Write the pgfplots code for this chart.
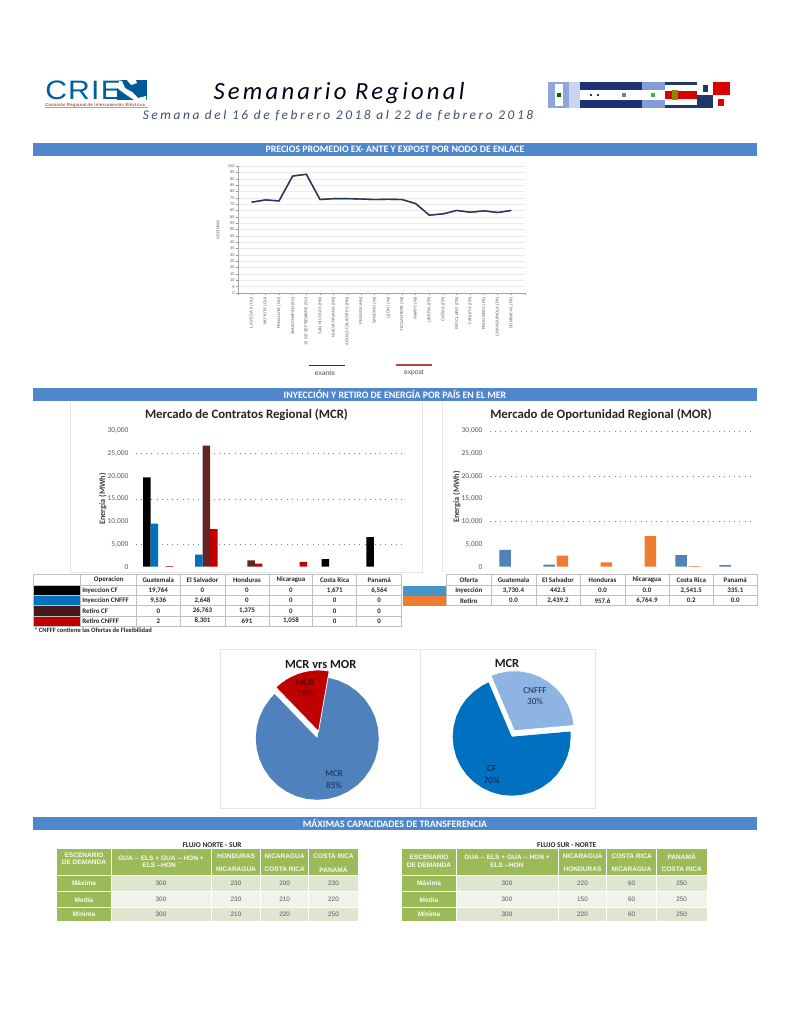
\documentclass[border=0pt]{standalone}
\usepackage{pgfplots}
\pgfplotsset{compat=1.18}
\usepgfplotslibrary{polar}
\usepackage{fontspec}
\setmainfont{Carlito}
\newfontfamily\arialf{Liberation Sans}
\definecolor{banner}{HTML}{4F86CC}
\definecolor{tickgray}{HTML}{595959}
\definecolor{gridc}{HTML}{6F83A0}
\definecolor{panel}{HTML}{E6E6E6}
\definecolor{tline}{HTML}{BFBFBF}
\definecolor{navyl}{HTML}{1F3864}
\definecolor{redl}{HTML}{C0504D}
\definecolor{retrocf}{HTML}{632523}
\definecolor{retrocn}{HTML}{C00000}
\definecolor{cfblue}{HTML}{0070C0}
\definecolor{morblue}{HTML}{4F81BD}
\definecolor{mororange}{HTML}{ED7D31}
\definecolor{grn}{HTML}{9BBB59}
\definecolor{band}{HTML}{DEE6D0}
\definecolor{bandl}{HTML}{EFF3EA}
\definecolor{subt}{HTML}{3D4F6B}
\definecolor{cnfffc}{HTML}{8EB4E3}
\newcommand{\fs}[1]{\fontsize{#1}{#1}\selectfont}
\pgfplotsset{
  barax/.style={scale only axis, width=#1, height=101.8pt, ymin=0, ymax=30000,
    xmin=-0.5, xmax=5.5, xtick=\empty, ytick={0,5000,10000,15000,20000,25000,30000},
    axis line style={draw=none}, tick style={draw=none}, ybar,
    restrict y to domain=0.1:40000,
    /pgf/number format/.cd, 1000 sep={,}, assume math mode=true, /pgfplots/.cd,
    scaled y ticks=false,
    yticklabel style={font=\fs{5.6}, text=tickgray, inner sep=1pt},
    ytick align=outside,
    extra tick style={grid=major, major grid style={dash pattern=on 0.7pt off 3.2pt, gridc, line width=0.5pt}},
    extra y tick labels={}},
  pie/.style={hide axis, scale only axis, width=#1, height=#1, anchor=center,
    xmin=-1, xmax=1, ymin=-1, ymax=1, clip=false, data cs=polar}
}
\begin{document}
\begin{tikzpicture}[x=0.75pt,y=-0.75pt]
\path[use as bounding box,fill=white] (0,0) rectangle (791,1024);
% ---------- header
\fill[cfblue!80!black] (117,80) -- (147,80) -- (147,100) -- (117,100) -- cycle;
\fill[white] (117,80) -- (122,81) -- (125,88) -- (132,92) -- (138,98) -- (146,96) -- (146,100) -- (134,100) -- (125,94) -- (117,88) -- cycle;
\fill[white] (126,79) -- (135,78) -- (137,83) -- (131,85) -- cycle;
\node[text=cfblue!85!black, font=\arialf\fs{20}\addfontfeatures{LetterSpace=4}, inner sep=0, anchor=west, xscale=1.13] at (45,90) {CRIE};
\node[text=red!60!black, font=\arialf\fs{3.2}\addfontfeatures{LetterSpace=8}, inner sep=0, anchor=west] at (45,105) {Comisi\'on Regional de Interconexi\'on El\'ectrica};
\draw[red!50, line width=0.3pt] (45,107.5) -- (148,107.5);
\node[font=\itshape\fs{18.5}\addfontfeatures{LetterSpace=13}, text=black!90!blue, inner sep=0] at (339,93) {Semanario Regional};
\node[font=\itshape\fs{10}\addfontfeatures{LetterSpace=19.5}, text=subt, inner sep=0] at (338,116) {Semana del 16 de febrero 2018 al 22 de febrero 2018};
% flags
\fill[cyan!40!blue!20] (548,82) rectangle (580,108);
\fill[cyan!40!blue!45] (548,82) rectangle (569,108);
\fill[white] (555,84) rectangle (563,106);
\fill[green!40!black] (557,93) rectangle (561,97);
\fill[navyl!90!blue] (580,82) rectangle (642,90);
\fill[navyl!90!blue] (580,100) rectangle (642,108);
\fill[white] (580,90) rectangle (642,100);
\fill[navyl] (590,94) rectangle (592,96); \fill[navyl] (597,94) rectangle (599,96);
\fill[gray] (622,93) rectangle (626,97);
\fill[cyan!40!blue!50] (642,82) rectangle (665,90);
\fill[cyan!40!blue!50] (642,100) rectangle (665,108);
\fill[green!40!gray] (651,93) rectangle (655,97);
\fill[navyl] (665,82) rectangle (697,85); \fill[navyl] (665,105) rectangle (697,108);
\fill[red!85!black] (665,91) rectangle (697,99);
\fill[olive] (672,90) rectangle (678,100);
\fill[navyl] (697,95) rectangle (713,108);
\fill[red!85!black] (713,82) rectangle (730,95);
\fill[navyl] (703,85) rectangle (708,92);
\fill[red!85!black] (718,99) rectangle (724,106);
% ---------- banners
\foreach \yy/\tt in {142.7/{PRECIOS PROMEDIO EX- ANTE Y EXPOST POR NODO DE ENLACE},388/{INYECCI\'ON Y RETIRO DE ENERG\'IA POR PA\'IS EN EL MER},817/{M\'AXIMAS CAPACIDADES DE TRANSFERENCIA}}{
  \fill[banner] (33,\yy) rectangle (757,\yy+13);
  \node[text=white, font=\bfseries\fs{7.4}, inner sep=0] at (395,\yy+6.5) {\tt};
}
% ---------- line chart
\begin{axis}[at={(178.5pt,-219.75pt)}, anchor=south west, scale only axis, width=215.25pt, height=95.25pt,
  xmin=-1, xmax=20, ymin=0, ymax=100,
  xtick={-1,0,...,20}, 
  xticklabels={,LA VEGA II (GU),MOYUTA (GU),PANALUYA (GU),AHUACHAP\'AN (SV),15 DE SEPTIEMBRE (SV),SAN NICOL\'AS (HN),NUEVA PAVANA (HN),AGUAS CALIENTES (HN),PRADOS (HN),SANDINO (NI),LE\'ON I (NI),TICUANTEPE (NI),AMAYO (NI),LIBERIA (CR),CA\~NAS (CR),R\'IO CLARO (CR),CAHUITA (CR),PROGRESO (PA),CHANGUINOLA (PA),DOMINICAL (PA),},
  x tick label style={rotate=90, anchor=east, font=\arialf\fs{3.05}, text=tickgray, inner sep=1.6pt},
  ytick={0,5,...,100}, ymajorgrids, major grid style={line width=0.3pt, black!8},
  y tick label style={font=\arialf\fs{3}, text=tickgray, inner sep=0.8pt},
  /pgf/number format/assume math mode=true,
  axis x line=bottom, axis y line=left, axis line style={black!35, line width=0.4pt, -},
  tick style={black!40, line width=0.3pt}, tick align=outside, major tick length=1.5pt]
\addplot[redl, line width=1pt] coordinates {(0,71.5)(1,73.3)(2,72.5)(3,92.1)(4,93.5)(5,73.6)(6,74.3)(7,74.3)(8,74)(9,73.6)(10,73.8)(11,73.6)(12,70.4)(13,61.3)(14,62.3)(15,65)(16,63.6)(17,64.7)(18,63.4)(19,65)};
\addplot[navyl, line width=1.05pt] coordinates {(0,71.5)(1,73.3)(2,72.5)(3,92.1)(4,93.5)(5,73.6)(6,74.3)(7,74.3)(8,74)(9,73.6)(10,73.8)(11,73.6)(12,70.4)(13,61.3)(14,62.3)(15,65)(16,63.6)(17,64.7)(18,63.4)(19,65)};
\end{axis}
\node[rotate=90, font=\arialf\fs{3}, text=tickgray, inner sep=0] at (218,230) {USD/MWh};
\draw[navyl, line width=0.9pt] (309,365.5) -- (345,365.5);
\draw[redl!90!black, line width=0.9pt] (396,365) -- (432,365);
\node[font=\arialf\fs{5}, text=black!70, inner sep=0] at (325,373) {exante};
\node[font=\arialf\fs{5}, text=black!70, inner sep=0] at (414,373) {expost};
% ---------- panels
\draw[panel, line width=0.5pt] (70.7,402) -- (70.7,572) -- (422.7,572) -- (422.7,402);
\draw[panel, line width=0.5pt] (442.7,402) -- (442.7,572);
\node[font=\bfseries\fs{9.6}, text=black!85, inner sep=0] at (246.5,415) {Mercado de Contratos Regional (MCR)};
\node[font=\bfseries\fs{9.6}, text=black!85, inner sep=0] at (601,415) {Mercado de Oportunidad Regional (MOR)};
\node[rotate=90, font=\bfseries\fs{6.2}, text=black!75, inner sep=0] at (102.7,499) {Energ\'ia (MWh)};
\node[rotate=90, font=\bfseries\fs{6.2}, text=black!75, inner sep=0] at (456.7,497) {Energ\'ia (MWh)};
% ---------- MCR bars
\begin{axis}[at={(101.775pt,-425.025pt)}, anchor=south west, barax=201pt, extra y ticks={5000,15000,25000}]
\addplot[ybar, bar width=5.625pt, bar shift=-8.44pt, fill=black, draw=none] coordinates {(0,19764)(1,0)(2,0)(3,0)(4,1671)(5,6564)};
\addplot[ybar, bar width=5.625pt, bar shift=-2.81pt, fill=cfblue, draw=none] coordinates {(0,9536)(1,2648)(2,0)(3,0)(4,0)(5,0)};
\addplot[ybar, bar width=5.625pt, bar shift=2.81pt, fill=retrocf, draw=none] coordinates {(0,0)(1,26763)(2,1375)(3,0)(4,0)(5,0)};
\addplot[ybar, bar width=5.625pt, bar shift=8.44pt, fill=retrocn, draw=none] coordinates {(0,150)(1,8301)(2,691)(3,1058)(4,0)(5,0)};
\end{axis}
% ---------- MOR bars
\begin{axis}[at={(367.275pt,-425.025pt)}, anchor=south west, barax=198pt, extra y ticks={10000,20000,30000}]
\addplot[ybar, bar width=8.6pt, bar shift=-4.95pt, fill=morblue, draw=none] coordinates {(0,3730.4)(1,442.5)(2,0)(3,0)(4,2541.5)(5,335.1)};
\addplot[ybar, bar width=8.6pt, bar shift=4.95pt, fill=mororange, draw=none] coordinates {(0,0)(1,2439.2)(2,957.6)(3,6764.9)(4,150)(5,0)};
\end{axis}
% ---------- MCR table
\fill[black] (33.3,585.7) rectangle (80.7,595.7);
\fill[cfblue] (33.3,595.7) rectangle (80.7,605.7);
\fill[retrocf!70!black!100] (33.3,605.7) rectangle (80.7,616);
\fill[retrocn] (33.3,616) rectangle (80.7,626);
\foreach \yy in {574.3,585.7,595.7,605.7,616,626} \draw[tline, line width=0.4pt] (33.3,\yy) -- (401.7,\yy);
\foreach \xx in {33.3,80.7,136.7,180,225,269.3,312.7,356.7,401.7} \draw[tline, line width=0.4pt] (\xx,574.3) -- (\xx,626);
\foreach \xx/\tt in {108.7/Operacion,158.3/Guatemala,202.5/El Salvador,247/Honduras,291/Nicaragua,334.7/Costa Rica,379.2/Panam\'a} \node[font=\bfseries\fs{5.2}, inner sep=0, text=black!85] at (\xx,580) {\tt};
\foreach \yy/\tt in {590.7/Inyeccion CF,600.7/Inyeccion CNFFF,610.8/Retiro CF,621/Retiro CNFFF} \node[font=\bfseries\fs{5.2}, inner sep=0, anchor=west, text=black!85] at (82,\yy) {\tt};
\foreach \xx/\tt in {158.3/{19,764},202.5/0,247/0,291/0,334.7/{1,671},379.2/{6,564}} \node[font=\bfseries\fs{5.2}, inner sep=0, text=black!85] at (\xx,590.7) {\tt};
\foreach \xx/\tt in {158.3/{9,536},202.5/{2,648},247/0,291/0,334.7/0,379.2/0} \node[font=\bfseries\fs{5.2}, inner sep=0, text=black!85] at (\xx,600.7) {\tt};
\foreach \xx/\tt in {158.3/0,202.5/{26,763},247/{1,375},291/0,334.7/0,379.2/0} \node[font=\bfseries\fs{5.2}, inner sep=0, text=black!85] at (\xx,610.8) {\tt};
\foreach \xx/\tt in {158.3/2,202.5/{8,301},247/691,291/{1,058},334.7/0,379.2/0} \node[font=\bfseries\fs{5.2}, inner sep=0, text=black!85] at (\xx,621) {\tt};
\node[font=\bfseries\fs{4.9}, inner sep=0, anchor=west, text=black!85] at (34,630.5) {* CNFFF contiene las Ofertas de Flexibilidad};
% ---------- MOR table
\fill[morblue!85!cyan] (402.7,585.7) rectangle (446.7,595.7);
\fill[mororange] (402.7,595.7) rectangle (446.7,605.7);
\foreach \yy in {574.3,585.7,595.7,605.7} \draw[tline, line width=0.4pt] (446.7,\yy) -- (757.3,\yy);
\foreach \xx in {446.7,491,536,580,625,669.3,713.3,757.3} \draw[tline, line width=0.4pt] (\xx,574.3) -- (\xx,605.7);
\foreach \xx/\tt in {468.8/Oferta,513.5/Guatemala,558/El Salvador,602.5/Honduras,647/Nicaragua,691.3/Costa Rica,735.3/Panam\'a} \node[font=\bfseries\fs{5.2}, inner sep=0, text=black!85] at (\xx,580) {\tt};
\foreach \xx/\tt in {468.8/Inyecci\'on,513.5/{3,730.4},558/442.5,602.5/0.0,647/0.0,691.3/{2,541.5},735.3/335.1} \node[font=\bfseries\fs{5.2}, inner sep=0, text=black!85] at (\xx,590.7) {\tt};
\foreach \xx/\tt in {468.8/Retiro,513.5/0.0,558/{2,439.2},602.5/957.6,647/{6,764.9},691.3/0.2,735.3/0.0} \node[font=\bfseries\fs{5.2}, inner sep=0, text=black!85] at (\xx,600.7) {\tt};
% ---------- pies
\draw[panel, line width=0.6pt] (220,649) rectangle (595,808);
\draw[panel, line width=0.6pt] (420,649) -- (420,808);
\begin{axis}[pie=92.25pt, at={(237.975pt,-553.725pt)}]
\addplot[fill=morblue, draw=none] coordinates {(0,0)(134,1)(140,1)(150,1)(160,1)(170,1)(180,1)(190,1)(200,1)(210,1)(220,1)(230,1)(240,1)(250,1)(260,1)(270,1)(280,1)(290,1)(300,1)(310,1)(320,1)(330,1)(340,1)(350,1)(360,1)(370,1)(380,1)(390,1)(400,1)(410,1)(420,1)(430,1)(440,1)(0,0)};
\end{axis}
\begin{axis}[pie=92.25pt, at={(238.875pt,-548.625pt)}]
\addplot[fill=retrocn, draw=white, line width=0.6pt] coordinates {(0,0)(80,1)(86,1)(92,1)(98,1)(104,1)(110,1)(116,1)(122,1)(128,1)(134,1)(0,0)};
\end{axis}
\begin{axis}[pie=88.5pt, at={(383.775pt,-552.525pt)}]
\addplot[fill=cfblue, draw=none] coordinates {(0,0)(113,1)(120,1)(130,1)(140,1)(150,1)(160,1)(170,1)(180,1)(190,1)(200,1)(210,1)(220,1)(230,1)(240,1)(250,1)(260,1)(270,1)(280,1)(290,1)(300,1)(310,1)(320,1)(330,1)(340,1)(350,1)(360,1)(365,1)(0,0)};
\end{axis}
\begin{axis}[pie=90pt, at={(385.725pt,-548.025pt)}]
\addplot[fill=cnfffc, draw=white, line width=0.6pt] coordinates {(0,0)(5,1)(15,1)(25,1)(35,1)(45,1)(55,1)(65,1)(75,1)(85,1)(95,1)(105,1)(113,1)(0,0)};
\end{axis}
\node[font=\bfseries\fs{9.3}, text=black!90, inner sep=0] at (320.7,664) {MCR vrs MOR};
\node[font=\bfseries\fs{9.3}, text=black!90, inner sep=0] at (507,663) {MCR};
\foreach \xx/\yy/\tt in {334/774/MCR,334/785.6/85\%,535/691/CNFFF,535/701.7/30\%} \node[font=\fs{6.8}, text=navyl!80!black, inner sep=0] at (\xx,\yy) {\tt};
\foreach \xx/\yy/\tt in {491.7/769/CF,491.7/780/70\%} \node[font=\fs{6.8}, text=navyl!50!black, inner sep=0] at (\xx,\yy) {\tt};
\foreach \xx/\yy/\tt in {305/682.7/MOR,305/693/15\%} \node[font=\fs{6.8}, text=black!75!red, inner sep=0] at (\xx,\yy) {\tt};
% ---------- bottom tables
\node[font=\bfseries\fs{5.5}, inner sep=0, text=black!85] at (212,844.7) {FLUJO NORTE - SUR};
\node[font=\bfseries\fs{5.5}, inner sep=0, text=black!85] at (566.7,844.7) {FLUJO SUR - NORTE};
% NS
\fill[grn] (57.3,849.3) rectangle (358.3,875);
\fill[grn] (57.3,875) rectangle (111,921);
\fill[band] (111,875) rectangle (358.3,891.7);
\fill[bandl] (111,891.7) rectangle (358.3,907.7);
\fill[band] (111,907.7) rectangle (358.3,921);
\foreach \yy in {875,891.7,907.7} \draw[white, line width=0.6pt] (57.3,\yy) -- (358.3,\yy);
\foreach \xx in {111,211,260.7,308.7} \draw[white, line width=0.6pt] (\xx,849.3) -- (\xx,921);
\foreach \xx/\yy/\tt in {84/855/ESCENARIO,84/862.5/DE DEMANDA,161/858/{GUA -- ELS + GUA -- HON +},161/865/{ELS --HON \"{}},236/856.7/HONDURAS,236/869.3/NICARAGUA,284.7/856.7/NICARAGUA,284.7/869.3/COSTA RICA,333.5/856.7/COSTA RICA,333.5/869.3/PANAM\'A,84/883.3/M\'axima,84/899.7/Media,84/914.3/M\'inima} \node[font=\arialf\bfseries\fs{4.9}, text=white!92!grn, inner sep=0] at (\xx,\yy) {\tt};
\foreach \yy/\a/\b/\c/\d in {883.3/300/230/200/230,899.7/300/230/210/220,914.3/300/210/220/250} {
 \node[font=\arialf\fs{4.8}, text=tickgray, inner sep=0] at (161,\yy) {\a};
 \node[font=\arialf\fs{4.8}, text=tickgray, inner sep=0] at (236,\yy) {\b};
 \node[font=\arialf\fs{4.8}, text=tickgray, inner sep=0] at (284.7,\yy) {\c};
 \node[font=\arialf\fs{4.8}, text=tickgray, inner sep=0] at (333.5,\yy) {\d};
}
% SN
\fill[grn] (402.3,849.3) rectangle (706.7,875);
\fill[grn] (402.3,875) rectangle (456,921);
\fill[band] (456,875) rectangle (706.7,891.7);
\fill[bandl] (456,891.7) rectangle (706.7,907.7);
\fill[band] (456,907.7) rectangle (706.7,921);
\foreach \yy in {875,891.7,907.7} \draw[white, line width=0.6pt] (402.3,\yy) -- (706.7,\yy);
\foreach \xx in {456,558.3,606.7,656.7} \draw[white, line width=0.6pt] (\xx,849.3) -- (\xx,921);
\foreach \xx/\yy/\tt in {429/857/ESCENARIO,429/865/DE DEMANDA,507/857/{GUA -- ELS + GUA -- HON +},507/865/{ELS --HON},582.5/856.7/NICARAGUA,582.5/869.3/HONDURAS,631.7/856.7/COSTA RICA,631.7/869.3/NICARAGUA,681.7/856.7/PANAM\'A,681.7/869.3/COSTA RICA,429/883.3/M\'axima,429/899.7/Media,429/914.3/M\'inima} \node[font=\arialf\bfseries\fs{4.9}, text=white!92!grn, inner sep=0] at (\xx,\yy) {\tt};
\foreach \yy/\a/\b/\c/\d in {883.3/300/220/60/250,899.7/300/150/60/250,914.3/300/220/60/250} {
 \node[font=\arialf\fs{4.8}, text=tickgray, inner sep=0] at (507,\yy) {\a};
 \node[font=\arialf\fs{4.8}, text=tickgray, inner sep=0] at (582.5,\yy) {\b};
 \node[font=\arialf\fs{4.8}, text=tickgray, inner sep=0] at (631.7,\yy) {\c};
 \node[font=\arialf\fs{4.8}, text=tickgray, inner sep=0] at (681.7,\yy) {\d};
}
\end{tikzpicture}
\end{document}
